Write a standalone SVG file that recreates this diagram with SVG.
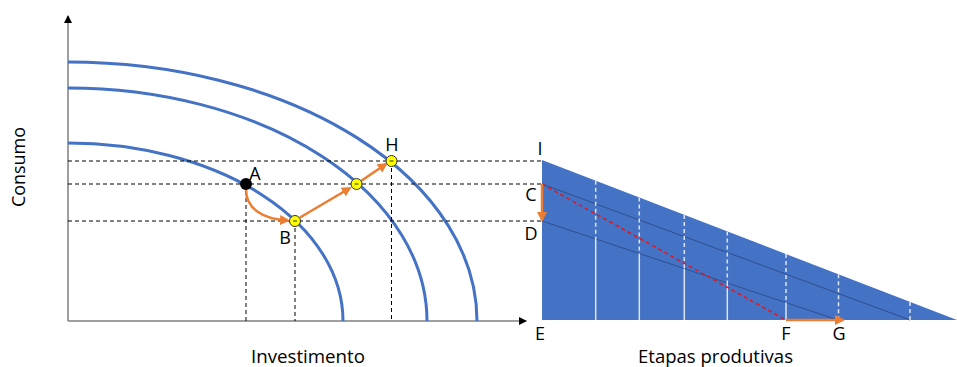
<svg xmlns="http://www.w3.org/2000/svg" width="957" height="367" viewBox="0 0 957 367">
<style>
text{font-family:"Open Sans","Liberation Sans",sans-serif;fill:#000;}
.lbl{font-size:18px;text-anchor:middle;}
.ax{font-size:18px;}
.guide{stroke:#000;stroke-width:1;stroke-dasharray:4 3;fill:none;}
.ppf{stroke:#4472C4;stroke-width:3;fill:none;}
.axis{stroke:#7F7F7F;stroke-width:1.5;fill:none;}
.orange{stroke:#ED7D31;stroke-width:2.5;fill:none;}
.wd{stroke:#DCE4F4;stroke-width:1.5;stroke-dasharray:4 3;}
.ws{stroke:#DCE4F4;stroke-width:1.5;}
.inner{stroke:#2F4F8F;stroke-width:1;}
.yel{fill:#FFFF00;stroke:#333;stroke-width:1;}
</style>
<defs>
<marker id="ah" markerWidth="10" markerHeight="10" refX="8" refY="5" orient="auto" markerUnits="userSpaceOnUse" viewBox="0 0 10 10">
<path d="M0,0 L10,5 L0,10 z" fill="#ED7D31"/>
</marker>
<marker id="axh" markerWidth="8" markerHeight="8" refX="7" refY="4" orient="auto" markerUnits="userSpaceOnUse" viewBox="0 0 8 8">
<path d="M0,0 L8,4 L0,8 z" fill="#000"/>
</marker>
</defs>

<g id="axes">
<line class="axis" x1="68" y1="321" x2="68" y2="16" marker-end="url(#axh)"/>
<line class="axis" x1="68" y1="321" x2="526" y2="321" marker-end="url(#axh)"/>
<text class="ax" transform="translate(25,167) rotate(-90)" text-anchor="middle" textLength="80" lengthAdjust="spacingAndGlyphs">Consumo</text>
<text class="ax" x="251" y="363" textLength="114" lengthAdjust="spacingAndGlyphs">Investimento</text>
</g>

<g id="curves">
<path class="ppf" d="M68,143 A275,178 0 0 1 343,321"/>
<path class="ppf" d="M68,88 A359,233 0 0 1 427,321"/>
<path class="ppf" d="M68,62 A409,259 0 0 1 477,321"/>
</g>

<g id="triangle">
<polygon points="542,160 957,320 542,320" fill="#4472C4"/>
<line class="inner" x1="542" y1="184" x2="910" y2="320"/>
<line class="inner" x1="542" y1="221" x2="838" y2="320"/>
<line class="wd" x1="595.7" y1="180.7" x2="595.7" y2="239"/>
<line class="ws" x1="595.7" y1="239" x2="595.7" y2="320"/>
<line class="wd" x1="639.3" y1="197.5" x2="639.3" y2="253.5"/>
<line class="ws" x1="639.3" y1="253.5" x2="639.3" y2="320"/>
<line class="wd" x1="684.3" y1="214.9" x2="684.3" y2="268.6"/>
<line class="ws" x1="684.3" y1="268.6" x2="684.3" y2="320"/>
<line class="wd" x1="727.3" y1="231.4" x2="727.3" y2="283"/>
<line class="ws" x1="727.3" y1="283" x2="727.3" y2="320"/>
<line class="wd" x1="786" y1="254.1" x2="786" y2="302.6"/>
<line class="ws" x1="786" y1="302.6" x2="786" y2="320"/>
<line class="wd" x1="838.5" y1="274.3" x2="838.5" y2="320"/>
<line class="wd" x1="910" y1="301.9" x2="910" y2="320"/>
<line x1="542" y1="184" x2="786" y2="320" stroke="#E8141E" stroke-width="1.5" stroke-dasharray="4 3"/>
<text class="ax" x="638" y="363" textLength="155" lengthAdjust="spacingAndGlyphs">Etapas produtivas</text>
</g>

<g id="guides">
<line class="guide" x1="68" y1="161" x2="542" y2="161"/>
<line class="guide" x1="68" y1="184" x2="542" y2="184"/>
<line class="guide" x1="68" y1="221" x2="542" y2="221"/>
<line class="guide" x1="246" y1="184" x2="246" y2="321"/>
<line class="guide" x1="295" y1="221" x2="295" y2="321"/>
<line class="guide" x1="391.5" y1="161" x2="391.5" y2="321"/>
</g>

<g id="connectors">
<path class="orange" d="M246,190 C246,208 262,219 288,220.5" marker-end="url(#ah)"/>
<line class="orange" x1="300" y1="217.5" x2="350" y2="188" marker-end="url(#ah)"/>
<line class="orange" x1="361" y1="181" x2="386" y2="164" marker-end="url(#ah)"/>
<line class="orange" x1="542" y1="184" x2="542" y2="220" marker-end="url(#ah)"/>
<line class="orange" x1="786" y1="320" x2="843" y2="320" marker-end="url(#ah)"/>
</g>

<g id="pointA">
<circle cx="246" cy="184" r="6" fill="#000"/>
<text class="lbl" x="255" y="180">A</text>
</g>
<g id="pointB">
<circle class="yel" cx="295" cy="221" r="5.5"/>
<line x1="293" y1="221" x2="297" y2="221" stroke="#333" stroke-width="1"/>
<text class="lbl" x="285" y="244">B</text>
</g>
<g id="pointMid">
<circle class="yel" cx="356.5" cy="184" r="5.5"/>
<line x1="354.5" y1="184" x2="358.5" y2="184" stroke="#333" stroke-width="1"/>
</g>
<g id="pointH">
<circle class="yel" cx="391.5" cy="161" r="5.5"/>
<line x1="389.5" y1="161" x2="393.5" y2="161" stroke="#333" stroke-width="1"/>
<text class="lbl" x="392" y="151">H</text>
</g>
<g id="labelI"><text class="lbl" x="540" y="155">I</text></g>
<g id="labelC"><text class="lbl" x="531" y="201">C</text></g>
<g id="labelD"><text class="lbl" x="531" y="240">D</text></g>
<g id="labelE"><text class="lbl" x="540" y="340">E</text></g>
<g id="labelF"><text class="lbl" x="786" y="340">F</text></g>
<g id="labelG"><text class="lbl" x="839" y="340">G</text></g>
</svg>
